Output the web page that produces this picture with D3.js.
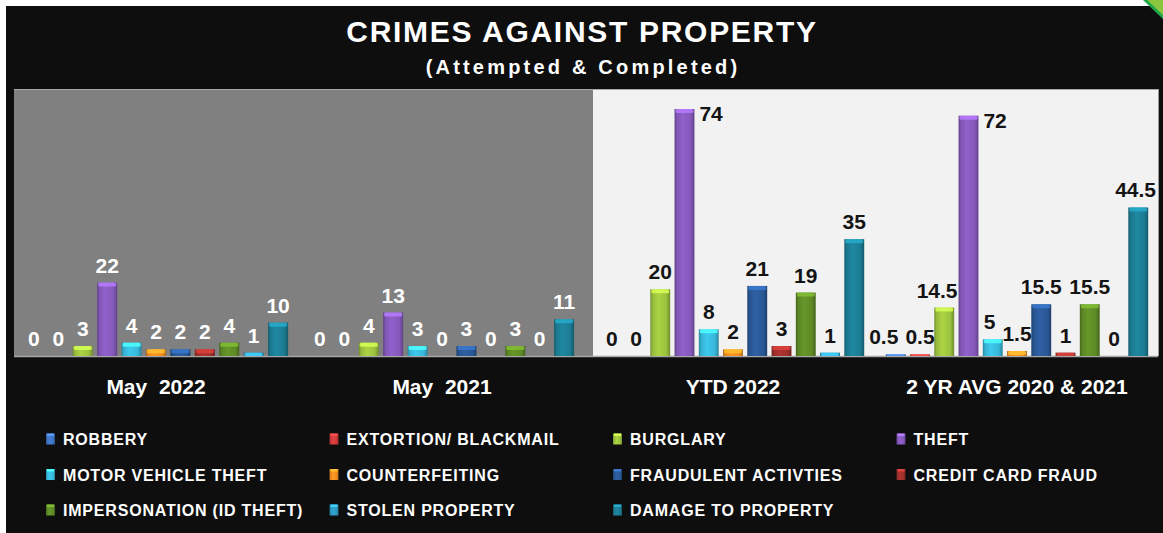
<!DOCTYPE html>
<html><head><meta charset="utf-8">
<script src="https://cdn.jsdelivr.net/npm/d3@7"></script>
<style>
html,body{margin:0;padding:0;background:#fff;}
svg{display:block;font-family:"Liberation Sans",Arial,sans-serif;font-weight:bold;}
</style></head><body>
<svg id="chart" width="1163" height="533"></svg>
<script>
// ---------- DATA ----------
const categories = ["May  2022", "May  2021", "YTD 2022", "2 YR AVG 2020 & 2021"];
const seriesNames = ["ROBBERY", "EXTORTION/ BLACKMAIL", "BURGLARY", "THEFT",
  "MOTOR VEHICLE THEFT", "COUNTERFEITING", "FRAUDULENT ACTIVTIES", "CREDIT CARD FRAUD",
  "IMPERSONATION (ID THEFT)", "STOLEN PROPERTY", "DAMAGE TO PROPERTY"];
const may2022 = [0, 0, 3, 22, 4, 2, 2, 2, 4, 1, 10];
const may2021 = [0, 0, 4, 13, 3, 0, 3, 0, 3, 0, 11];
const ytd2022 = [0, 0, 20, 74, 8, 2, 21, 3, 19, 1, 35];
const avg2020_2021 = [0.5, 0.5, 14.5, 72, 5, 1.5, 15.5, 1, 15.5, 0, 44.5];
const seriesColors = ["#3f72c2", "#cf3b3b", "#9cc23e", "#8559bb", "#38b8da", "#f08c22",
  "#2a5896", "#a0302c", "#5e8a26", "#2d98bd", "#1c7c93"];
const valuesByCategory = [may2022, may2021, ytd2022, avg2020_2021];

// ---------- LAYOUT ----------
const W = 1163, H = 533;
const plotTop = 89, plotBase = 356;
const svg = d3.select("#chart");
const defs = svg.append("defs");

seriesColors.forEach((c, i) => {
  const g = defs.append("linearGradient").attr("id", "bar" + i).attr("x1", 0).attr("x2", 1).attr("y1", 0).attr("y2", 0);
  const base = d3.color(c);
  [[0, base.darker(0.9)], [0.12, base.darker(0.1)], [0.4, base.brighter(0.25)], [0.8, base], [1, base.darker(0.9)]]
    .forEach(([o, col]) => g.append("stop").attr("offset", o).attr("stop-color", col.formatHex()));
});

svg.append("rect").attr("width", W).attr("height", H).attr("fill", "#ffffff");
svg.append("rect").attr("x", 6).attr("y", 6).attr("width", W - 6).attr("height", H - 6).attr("fill", "#0e0e0e");
svg.append("polygon").attr("points", "1146,0 1163,0 1163,16").attr("fill", "#8cc63f");
svg.append("line").attr("x1", 1144).attr("y1", -1).attr("x2", 1164).attr("y2", 18)
  .attr("stroke", "#1ea84a").attr("stroke-width", 3);

// Titles
svg.append("text").attr("x", 582).attr("y", 41.5).attr("text-anchor", "middle")
  .attr("fill", "#ffffff").attr("font-size", 30).attr("letter-spacing", 1.7)
  .text("CRIMES AGAINST PROPERTY");
svg.append("text").attr("x", 583).attr("y", 74).attr("text-anchor", "middle")
  .attr("fill", "#ffffff").attr("font-size", 20).attr("letter-spacing", 3.2)
  .text("(Attempted & Completed)");

const y = d3.scaleLinear().domain([0, 80]).range([plotBase, plotTop]);

const panels = [
  { idx: [0, 1], left: 14, right: 593, band: [13, 585], fill: "#808080", labelColor: "#ffffff" },
  { idx: [2, 3], left: 593, right: 1158, band: [591, 1159], fill: "#f2f2f2", labelColor: "#141414" }
];

panels.forEach(p => {
  svg.append("rect").attr("x", p.left).attr("y", plotTop).attr("width", p.right - p.left)
    .attr("height", plotBase - plotTop).attr("fill", p.fill);
  svg.append("line").attr("x1", p.left).attr("x2", p.right).attr("y1", plotTop + 0.5).attr("y2", plotTop + 0.5)
    .attr("stroke", "#a8a8a8").attr("stroke-width", 1);
});
svg.append("line").attr("x1", 1158.5).attr("x2", 1158.5).attr("y1", plotTop).attr("y2", plotBase)
  .attr("stroke", "#9a9a9a");
svg.append("line").attr("x1", 14).attr("x2", 1158).attr("y1", plotBase + 0.5).attr("y2", plotBase + 0.5)
  .attr("stroke", "#a6a6a6").attr("stroke-width", 1.5);

panels.forEach(p => {
  const cats = p.idx.map(i => categories[i]);
  const x0 = d3.scaleBand().domain(cats).range(p.band);
  const x1 = d3.scaleBand().domain(seriesNames).range([0, x0.bandwidth()]).paddingInner(0.18).paddingOuter(0.445);
  const bw = x1.bandwidth();

  p.idx.forEach(ci => {
    const cat = categories[ci];
    const vals = valuesByCategory[ci];
    const gx = x0(cat);
    const g = svg.append("g");
    const barX = i => gx + x1(seriesNames[i]);

    vals.forEach((v, i) => {
      const h = plotBase - y(v);
      if (h <= 0) return;
      g.append("rect").attr("x", barX(i)).attr("y", y(v)).attr("width", bw).attr("height", h)
        .attr("fill", `url(#bar${i})`);
      const cap = Math.min(4, h);
      g.append("rect").attr("x", barX(i) + 1).attr("y", y(v)).attr("width", bw - 2).attr("height", cap)
        .attr("rx", 1.5).attr("fill", d3.color(seriesColors[i]).brighter(0.9).formatHex()).attr("opacity", 0.85);
    });

    // labels
    const labels = vals.map((v, i) => {
      const t = g.append("text").attr("font-size", 21).attr("fill", p.labelColor).text(String(v));
      const w = t.node().getComputedTextLength();
      let cx, by;
      if (y(v) - 30 < plotTop) { // no room above: place to the right of the top
        cx = barX(i) + bw + 5 + w / 2;
        by = y(v) + 12;
      } else {
        cx = barX(i) + bw / 2;
        by = y(v) - 10;
      }
      return { t, w, cx, by, v, i };
    });
    for (let k = labels.length - 1; k >= 0; k--) {
      const L = labels[k];
      if (L.cx + L.w / 2 > p.right - 2) L.cx = p.right - 2 - L.w / 2;
      if (k < labels.length - 1) {
        // avoid next bar
        const nb0 = barX(k + 1), nTop = y(vals[k + 1]);
        if (L.cx + L.w / 2 > nb0 + 1 && L.by > nTop && vals[k + 1] > 0) {
          L.cx = nb0 - 1 - L.w / 2;
        }
        // avoid next label
        const N = labels[k + 1];
        if (L.cx + L.w / 2 > N.cx - N.w / 2 - 6 && Math.abs(L.by - N.by) < 15) {
          L.cx = N.cx - N.w / 2 - 7 - L.w / 2;
        }
      }
    }
    labels.forEach(L => L.t.attr("x", L.cx).attr("y", L.by).attr("text-anchor", "middle"));

    // category label
    svg.append("text").attr("x", gx + x0.bandwidth() / 2).attr("y", 393.5).attr("text-anchor", "middle")
      .attr("fill", "#ffffff").attr("font-size", 21).style("white-space", "pre").text(cat);
  });
});

// ---------- LEGEND ----------
const legCol = d3.scaleLinear().domain([0, 1]).range([46, 329.5]);
const legRow = d3.scaleLinear().domain([0, 1]).range([439, 474.5]);
seriesNames.forEach((s, i) => {
  const cx = legCol(i % 4), cy = legRow(Math.floor(i / 4));
  svg.append("rect").attr("x", cx).attr("y", cy - 5.5).attr("width", 9).attr("height", 11)
    .attr("fill", `url(#bar${i})`);
  svg.append("rect").attr("x", cx + 1).attr("y", cy - 5.5).attr("width", 7).attr("height", 2.5)
    .attr("fill", d3.color(seriesColors[i]).brighter(0.9).formatHex());
  svg.append("text").attr("x", cx + 17).attr("y", cy + 6).attr("fill", "#ffffff")
    .attr("font-size", 16).attr("letter-spacing", 0.8).text(s);
});
</script>
</body></html>
